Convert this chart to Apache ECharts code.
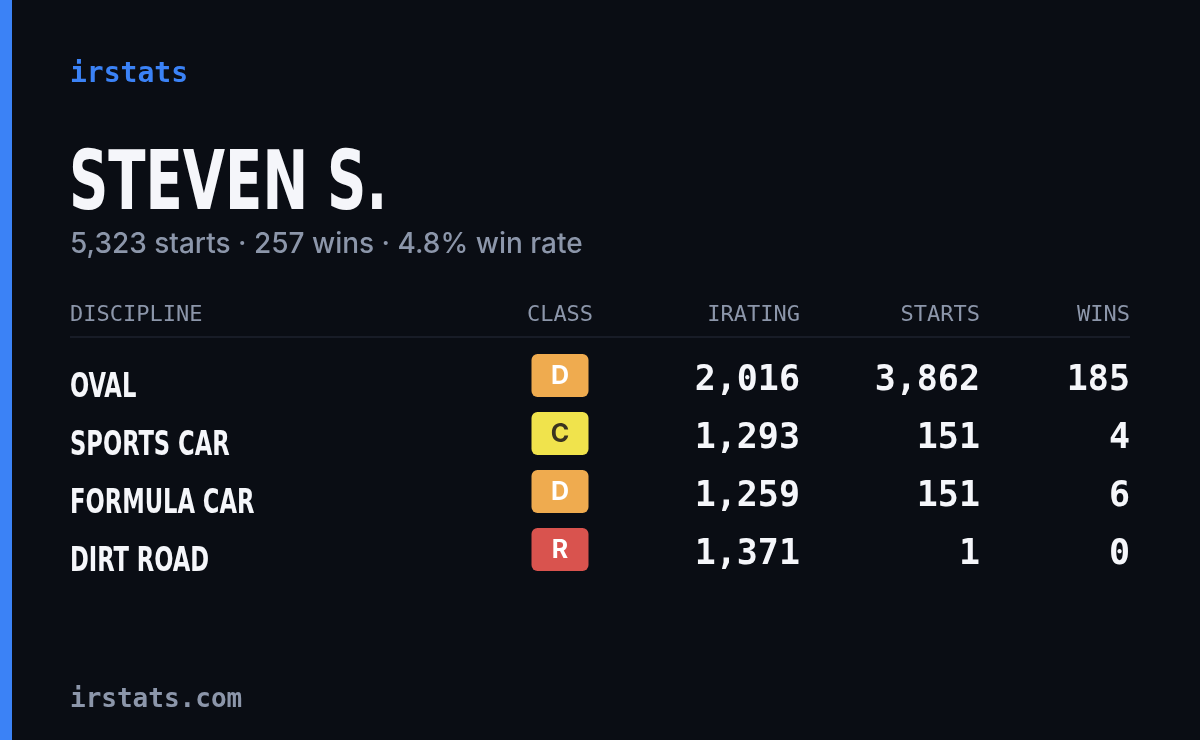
<!DOCTYPE html>
<html><head><meta charset="utf-8">
<script src="https://cdn.jsdelivr.net/npm/echarts@6/dist/echarts.min.js"></script>
<style>html,body{margin:0;padding:0;background:#0a0d14}#c{width:1200px;height:740px}</style>
</head><body><div id="c"></div>
<script>
const disciplines = ['OVAL', 'SPORTS CAR', 'FORMULA CAR', 'DIRT ROAD'];
const classes = ['D', 'C', 'D', 'R'];
const iratings = [2016, 1293, 1259, 1371];
const starts = [3862, 151, 151, 1];
const wins = [185, 4, 6, 0];
const headers = ['DISCIPLINE', 'CLASS', 'IRATING', 'STARTS', 'WINS'];
const classColors = { D: '#efab4f', C: '#f0e34c', R: '#d9534e' };
const classText = { D: '#ffffff', C: '#3a3420', R: '#ffffff' };

const cond = "'DejaVu Sans Condensed','DejaVu Sans',sans-serif";
const mono = "'DejaVu Sans Mono',monospace";
const fmt = n => n.toLocaleString('en-US');
const hdr = (x, t, align) => ({ type: 'text', x: x, y: 315, style: { text: t, font: '500 22px ' + mono, fill: '#8c96aa', align: align, verticalAlign: 'middle' } });

const chart = echarts.init(document.getElementById('c'));
chart.setOption({
  backgroundColor: '#0a0d14',
  animation: false,
  grid: { left: 0, right: 0, top: 351, bottom: 157 },
  xAxis: { type: 'value', min: 0, max: 1200, show: false },
  yAxis: { type: 'category', data: disciplines, inverse: true, show: false },
  graphic: [
    { type: 'rect', shape: { x: 0, y: 0, width: 12, height: 740 }, style: { fill: '#3b82f6' } },
    { type: 'text', x: 70, y: 75, style: { text: 'irstats', font: 'bold 28px ' + mono, fill: '#3b82f6', verticalAlign: 'middle' } },
    { type: 'text', x: 69, y: 188, scaleX: 0.74, style: { text: 'STEVEN S.', font: 'bold 82px ' + cond, fill: '#f5f6fa', verticalAlign: 'middle' } },
    { type: 'text', x: 70, y: 245, style: { text: '5,323 starts · 257 wins · 4.8% win rate', font: '500 28px Inter, sans-serif', fill: '#8c96aa', verticalAlign: 'middle' } },
    hdr(70, headers[0], 'left'),
    hdr(560, headers[1], 'center'),
    hdr(800, headers[2], 'right'),
    hdr(980, headers[3], 'right'),
    hdr(1130, headers[4], 'right'),
    { type: 'rect', shape: { x: 70, y: 336, width: 1060, height: 2 }, style: { fill: '#181c27' } },
    { type: 'text', x: 70, y: 700, style: { text: 'irstats.com', font: 'bold 26px ' + mono, fill: '#8c96aa', verticalAlign: 'middle' } }
  ],
  series: [{
    type: 'custom',
    data: disciplines.map((d, i) => [i]),
    renderItem: function (params, api) {
      const i = api.value(0);
      const cy = api.coord([0, i])[1];
      const xName = api.coord([70, i])[0];
      const xBadge = api.coord([560, i])[0];
      const xIr = api.coord([800, i])[0];
      const xSt = api.coord([980, i])[0];
      const xW = api.coord([1130, i])[0];
      const c = classes[i];
      const num = (x, t) => ({ type: 'text', x: x, y: cy + 1, style: { text: t, font: 'bold 35px ' + mono, fill: '#f5f6fa', align: 'right', verticalAlign: 'middle' } });
      return { type: 'group', children: [
        { type: 'text', x: xName, y: cy + 8, scaleX: 0.74, style: { text: disciplines[i], font: 'bold 34px ' + cond, fill: '#f5f6fa', verticalAlign: 'middle' } },
        { type: 'rect', shape: { x: xBadge - 28.5, y: cy - 26, width: 57, height: 43, r: 6 }, style: { fill: classColors[c] } },
        { type: 'text', x: xBadge, y: cy - 4, style: { text: c, font: 'bold 25px Inter, sans-serif', fill: classText[c], align: 'center', verticalAlign: 'middle' } },
        num(xIr, fmt(iratings[i])),
        num(xSt, fmt(starts[i])),
        num(xW, fmt(wins[i]))
      ]};
    }
  }]
});
</script></body></html>
